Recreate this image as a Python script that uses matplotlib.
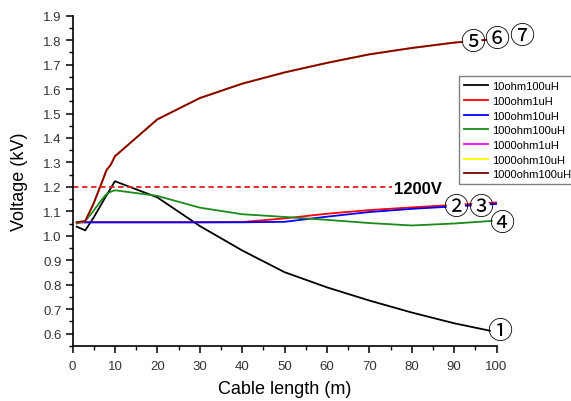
import matplotlib
matplotlib.use("Agg")
import matplotlib.pyplot as plt
from matplotlib.ticker import MultipleLocator, FormatStrFormatter

plt.rcParams['font.family'] = ['Liberation Sans', 'DejaVu Sans']

# cable length (m)
length_m = [1, 3, 5, 7, 8, 9, 10, 20, 30, 40, 50, 60, 70, 80, 90, 100]

# voltage (kV) per case
v_10ohm_100uH = [1.037, 1.022, 1.075, 1.135, 1.165, 1.194, 1.223, 1.157, 1.040,
                 0.940, 0.851, 0.789, 0.735, 0.686, 0.642, 0.606]
v_100ohm_1uH = [1.055, 1.055, 1.055, 1.055, 1.055, 1.055, 1.055, 1.055, 1.055,
                1.056, 1.071, 1.090, 1.105, 1.116, 1.126, 1.136]
v_100ohm_10uH = [1.055, 1.055, 1.055, 1.055, 1.055, 1.055, 1.055, 1.055, 1.055,
                 1.055, 1.057, 1.078, 1.097, 1.110, 1.120, 1.130]
v_100ohm_100uH = [1.050, 1.060, 1.103, 1.150, 1.170, 1.180, 1.186, 1.163, 1.115,
                  1.088, 1.077, 1.065, 1.052, 1.042, 1.050, 1.062]
v_1000ohm = [1.055, 1.060, 1.133, 1.222, 1.268, 1.290, 1.325, 1.476, 1.563,
             1.622, 1.668, 1.707, 1.742, 1.768, 1.790, 1.805]

series_names = ['10ohm100uH', '100ohm1uH', '100ohm10uH', '100ohm100uH',
                '1000ohm1uH', '1000ohm10uH', '1000ohm100uH']
series_values = [v_10ohm_100uH, v_100ohm_1uH, v_100ohm_10uH, v_100ohm_100uH,
                 v_1000ohm, v_1000ohm, v_1000ohm]
series_colors = ['#000000', '#ff0000', '#0000ff', '#1a8a1a',
                 '#ff00ff', '#ffff00', '#800000']

threshold_kv = 1.2
threshold_end_m = 75.3
threshold_label = '1200V'

# circled case numbers: (text, x, y)
marks = ['①', '②', '③', '④', '⑤', '⑥', '⑦']
marks_x = [100.8, 90.4, 96.3, 101.2, 94.3, 100.0, 105.9]
marks_y = [0.612, 1.118, 1.118, 1.052, 1.792, 1.803, 1.817]

fig = plt.figure(figsize=(5.71, 4.02), dpi=100)
ax = fig.add_axes([0.127, 0.1368, 0.7426, 0.8216])

lines = []
for name, vals, col in zip(series_names, series_values, series_colors):
    ln, = ax.plot(length_m, vals, color=col, lw=1.3, label=name)
    lines.append(ln)

ax.hlines(threshold_kv, 0, threshold_end_m, colors='#e02020', lw=1.3,
          linestyles=(0, (3, 2)))
ax.text(threshold_end_m + 0.6, threshold_kv - 0.005, threshold_label,
        fontsize=12, fontweight='bold', ha='left', va='center')

for m, mx, my in zip(marks, marks_x, marks_y):
    ax.text(mx, my, m, fontsize=18, ha='center', va='center',
            family=['Noto Sans CJK JP', 'DejaVu Sans'], zorder=10,
            bbox=dict(boxstyle='circle,pad=-0.15', fc='white', ec='none'),
            clip_on=False)

ax.set_xlim(0, 100)
ax.set_ylim(0.549, 1.9)
ax.xaxis.set_major_locator(MultipleLocator(10))
ax.xaxis.set_minor_locator(MultipleLocator(5))
ax.yaxis.set_major_locator(MultipleLocator(0.1))
ax.yaxis.set_minor_locator(MultipleLocator(0.05))
ax.yaxis.set_major_formatter(FormatStrFormatter('%.1f'))

for s in ['top', 'right']:
    ax.spines[s].set_visible(False)
for s in ['left', 'bottom']:
    ax.spines[s].set_linewidth(1.2)

ax.tick_params(which='major', length=5, width=1.1, labelsize=9.5,
               labelcolor='#333333', direction='out', pad=3)
ax.tick_params(which='minor', length=3, width=1.0, direction='out')
ax.tick_params(axis='x', which='major', pad=5)

ax.set_xlabel('Cable length (m)', fontsize=13, labelpad=6)
ax.set_ylabel('Voltage (kV)', fontsize=13, labelpad=11)

fig.legend(handles=lines, loc='upper left', bbox_to_anchor=(0.804, 0.808),
           fontsize=8, frameon=True, fancybox=False, edgecolor='#808080',
           framealpha=1, borderpad=0.45, labelspacing=0.42, handlelength=2.15,
           handletextpad=0.35, borderaxespad=0)

fig.savefig('out.png', dpi=100)
